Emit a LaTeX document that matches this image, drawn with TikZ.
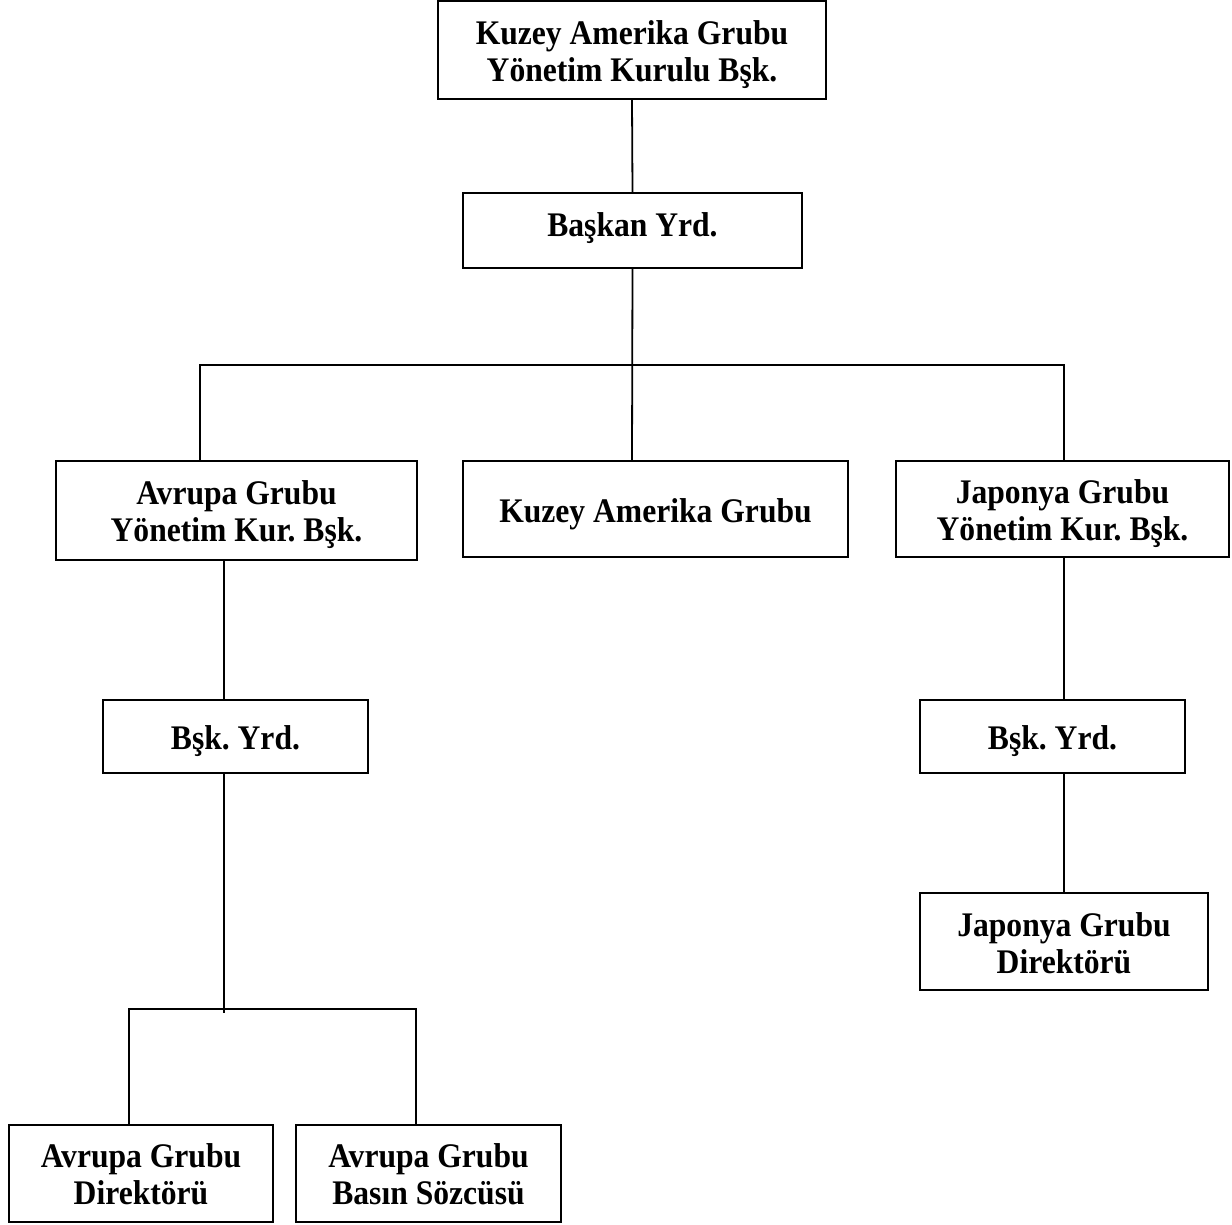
\documentclass[tikz,border=0pt]{standalone}
\usepackage{fontspec}
\usetikzlibrary{calc}
\setmainfont{Liberation Serif}[FakeStretch=0.916]
\frenchspacing
\begin{document}
\begin{tikzpicture}[x=1pt,y=-1pt,
  box/.style={draw=black,line width=2.4pt,inner sep=0pt},
  txt/.style={inner sep=0pt,align=center,
    font=\fontsize{34.5}{37}\selectfont\bfseries\frenchspacing},
  conn/.style={draw=black,line width=1.8pt}]
\useasboundingbox (0,0) rectangle (1232,1225);
% boxes
\node[box,minimum width=388pt,minimum height=97.8pt] (top) at (632,50.1) {};
\node[box,minimum width=339pt,minimum height=75pt] (bas) at (632.5,230.5) {};
\node[box,minimum width=361pt,minimum height=99pt] (avr) at (236.5,510.5) {};
\node[box,minimum width=385pt,minimum height=96pt] (ka) at (655.5,509) {};
\node[box,minimum width=333pt,minimum height=96pt] (jap) at (1062.5,509) {};
\node[box,minimum width=265pt,minimum height=73pt] (byl) at (235.5,736.5) {};
\node[box,minimum width=265pt,minimum height=73pt] (byr) at (1052.5,736.5) {};
\node[box,minimum width=288pt,minimum height=97pt] (jd) at (1064,941.5) {};
\node[box,minimum width=264pt,minimum height=97pt] (ad) at (141,1173.5) {};
\node[box,minimum width=265pt,minimum height=97pt] (as) at (428.5,1173.5) {};
% texts
\node[txt] (topt) at ($(top.center)+(0,4)$) {Kuzey Amerika Grubu\\Yönetim Kurulu Bşk.};
\node[txt] (bast) at ($(bas.center)+(0,-2)$) {Başkan Yrd.};
\node[txt] (avrt) at ($(avr.center)+(0,4.5)$) {Avrupa Grubu\\Yönetim Kur. Bşk.};
\node[txt] (kat) at ($(ka.center)+(0,5)$) {Kuzey Amerika Grubu};
\node[txt] (japt) at ($(jap.center)+(0,4.5)$) {Japonya Grubu\\Yönetim Kur. Bşk.};
\node[txt] (bylt) at ($(byl.center)+(0,5)$) {Bşk. Yrd.};
\node[txt] (byrt) at ($(byr.center)+(0,5)$) {Bşk. Yrd.};
\node[txt] (jdt) at ($(jd.center)+(0,2)$) {Japonya Grubu\\Direktörü};
\node[txt] (adt) at ($(ad.center)+(0,1)$) {Avrupa Grubu\\Direktörü};
\node[txt] (ast) at ($(as.center)+(0,1)$) {Avrupa Grubu\\Basın Sözcüsü};
% connectors
\coordinate (hl) at (200,365);
\coordinate (hm) at (632,365);
\coordinate (hr) at (1064,365);
\coordinate (lx) at (224,0);
\coordinate (lend) at (224,1013);
\coordinate (bl) at (129,1009);
\coordinate (br) at (416,1009);
\draw[conn] (top.south) -- (bas.north);
\draw[conn] (bas.south) -- (hm |- ka.north);
\draw[conn] (hl |- avr.north) -- (hl) -- (hr) -- (hr |- jap.north);
\draw[conn] (lx |- avr.south) -- (lx |- byl.north);
\draw[conn] (lx |- byl.south) -- (lend);
\draw[conn] (bl |- ad.north) -- (bl) -- (br) -- (br |- as.north);
\draw[conn] (hr |- jap.south) -- (hr |- byr.north);
\draw[conn] (hr |- byr.south) -- (jd.north);
\end{tikzpicture}
\end{document}
